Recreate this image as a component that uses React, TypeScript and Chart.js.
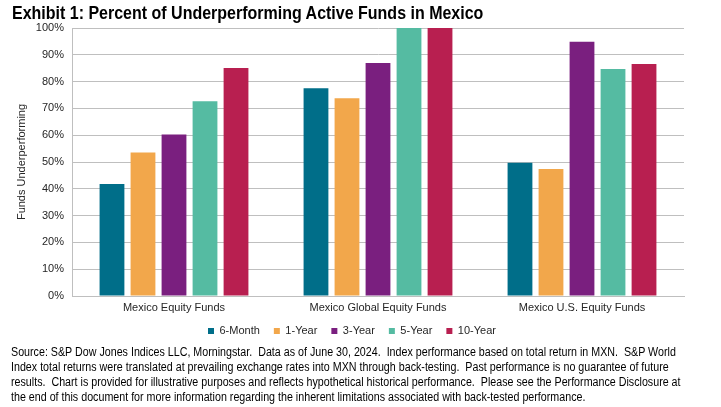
import React, { useEffect, useLayoutEffect, useRef, useState } from "react";
import { Chart, registerables } from "chart.js";

Chart.register(...registerables);

const categories = ["Mexico Equity Funds", "Mexico Global Equity Funds", "Mexico U.S. Equity Funds"];
const seriesNames = ["6-Month", "1-Year", "3-Year", "5-Year", "10-Year"];
const sixMonth = [41.8, 77.5, 49.7];
const oneYear = [53.5, 73.8, 47.4];
const threeYear = [60.3, 86.9, 94.9];
const fiveYear = [72.7, 100, 84.7];
const tenYear = [85.1, 100, 86.6];
const colors = ["#006E89", "#F2A74B", "#7A1F7F", "#55BBA2", "#B81F50"];
const yTicks = [0, 10, 20, 30, 40, 50, 60, 70, 80, 90, 100];

const titleText = "Exhibit 1: Percent of Underperforming Active Funds in Mexico";
const footLines = [
  "Source: S&P Dow Jones Indices LLC, Morningstar.\u00a0 Data as of June 30, 2024.\u00a0 Index performance based on total return in MXN.\u00a0 S&P World",
  "Index total returns were translated at prevailing exchange rates into MXN through back-testing.\u00a0 Past performance is no guarantee of future",
  "results.\u00a0 Chart is provided for illustrative purposes and reflects hypothetical historical performance.\u00a0 Please see the Performance Disclosure at",
  "the end of this document for more information regarding the inherent limitations associated with back-tested performance.",
];

const FONT = "'Liberation Sans', Arial, sans-serif";

const legendShift = {
  id: "legendShift",
  afterLayout(chart: any) {
    const lg = chart.legend;
    if (!lg) return;
    lg.top -= 4.5;
    lg.bottom -= 4.5;
    lg.left += 10;
    lg.right += 10;
  },
};

export default function App() {
  const ref = useRef<HTMLCanvasElement>(null);
  const titleRef = useRef<HTMLSpanElement>(null);
  const footRef = useRef<HTMLSpanElement>(null);
  const [titleScale, setTitleScale] = useState(1);
  const [footScale, setFootScale] = useState(1);

  useLayoutEffect(() => {
    document.body.style.margin = "0";
    if (titleRef.current) setTitleScale(471 / titleRef.current.offsetWidth);
    if (footRef.current) setFootScale(665 / footRef.current.offsetWidth);
  }, []);

  useEffect(() => {
    const values = [sixMonth, oneYear, threeYear, fiveYear, tenYear];
    const chart = new Chart(ref.current!, {
      type: "bar",
      data: {
        labels: categories,
        datasets: seriesNames.map((n, i) => ({
          label: n,
          data: values[i],
          backgroundColor: colors[i],
          borderWidth: 0,
          barPercentage: 0.8,
          categoryPercentage: 0.76,
        })),
      },
      plugins: [legendShift],
      options: {
        animation: false,
        responsive: false,
        maintainAspectRatio: false,
        layout: { padding: { top: 28, right: 37, left: 0, bottom: 0 } },
        plugins: {
          tooltip: { enabled: false },
          legend: {
            position: "bottom",
            labels: {
              boxWidth: 6,
              boxHeight: 6,
              padding: 14,
              color: "#262626",
              font: { family: FONT, size: 11 },
            },
          },
        },
        scales: {
          x: {
            grid: { display: false, drawTicks: false },
            border: { color: "#BFBFBF" },
            ticks: { color: "#262626", font: { family: FONT, size: 11 }, padding: 5 },
            afterFit: (s: any) => { s.height = 20; },
          },
          y: {
            min: 0,
            max: 100,
            afterBuildTicks: (s: any) => { s.ticks = yTicks.map((v) => ({ value: v })); },
            ticks: {
              color: "#262626",
              font: { family: FONT, size: 11 },
              padding: 8,
              callback: (v: any) => v + "%",
            },
            grid: { color: "#BFBFBF", drawTicks: false },
            border: { color: "#BFBFBF" },
            title: {
              display: true,
              text: "Funds Underperforming",
              color: "#262626",
              font: { family: FONT, size: 11 },
              padding: { top: 15, bottom: 0 },
            },
            afterFit: (s: any) => { s.width = 72; },
          },
        },
      },
    });
    return () => chart.destroy();
  }, []);

  return (
    <div style={{ position: "absolute", left: 0, top: 0, width: 721, height: 407, background: "#fff", overflow: "hidden" }}>
      <canvas ref={ref} width={721} height={351} style={{ position: "absolute", left: 0, top: 0 }} />
      <div style={{ position: "absolute", left: 12, top: 3, whiteSpace: "nowrap", transform: `scaleX(${titleScale})`, transformOrigin: "0 0" }}>
        <span ref={titleRef} style={{ fontFamily: FONT, fontWeight: "bold", fontSize: 18, color: "#000" }}>{titleText}</span>
      </div>
      <div style={{ position: "absolute", left: 11, top: 345, whiteSpace: "nowrap", transform: `scaleX(${footScale})`, transformOrigin: "0 0", fontFamily: FONT, fontSize: 12.5, lineHeight: "15px", color: "#000" }}>
        {footLines.map((l, i) => (
          <div key={i}>{i === 0 ? <span ref={footRef}>{l}</span> : l}</div>
        ))}
      </div>
    </div>
  );
}
